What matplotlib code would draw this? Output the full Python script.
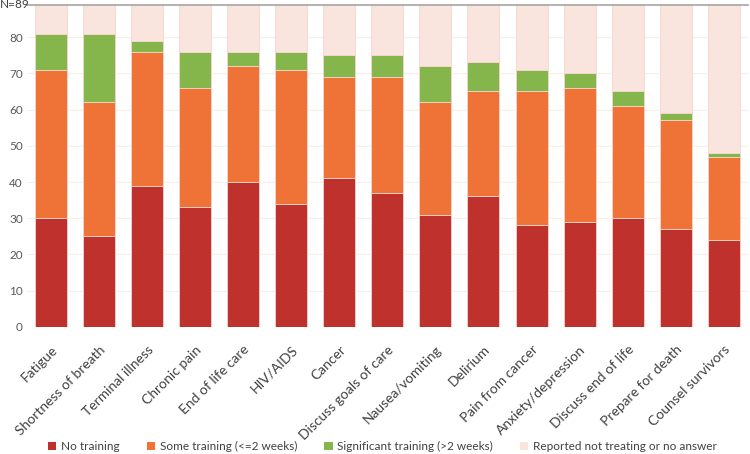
import numpy as np
import matplotlib.pyplot as plt
from matplotlib.patches import Patch
import matplotlib.transforms as mtransforms

plt.rcParams['font.family'] = ['Lato', 'DejaVu Sans']

N = 89
topics = ["Fatigue", "Shortness of breath", "Terminal illness", "Chronic pain",
          "End of life care", "HIV/AIDS", "Cancer", "Discuss goals of care",
          "Nausea/vomiting", "Delirium", "Pain from cancer", "Anxiety/depression",
          "Discuss end of life", "Prepare for death", "Counsel survivors"]
no_training = np.array([30, 25, 39, 33, 40, 34, 41, 37, 31, 36, 28, 29, 30, 27, 24])
some_training = np.array([41, 37, 37, 33, 32, 37, 28, 32, 31, 29, 37, 37, 31, 30, 23])
significant = np.array([10, 19, 3, 10, 4, 5, 6, 6, 10, 8, 6, 4, 4, 2, 1])
not_treating = N - no_training - some_training - significant

labels = ["No training", "Some training (<=2 weeks)",
          "Significant training (>2 weeks)", "Reported not treating or no answer"]
colors = ["#BE312D", "#EF7336", "#84B64B", "#FAE5DE"]

fig = plt.figure(figsize=(7.5, 4.54), dpi=100)
ax = fig.add_axes([0.036, 0.280, 0.961, 0.710])

x = np.arange(len(topics))
bottom = np.zeros(len(topics))
for vals, col in zip([no_training, some_training, significant, not_treating], colors):
    ax.bar(x, vals, bottom=bottom, width=0.667, color=col,
           edgecolor="#F6D5CC", linewidth=0.6, zorder=3)
    bottom += vals

ax.set_xlim(-0.5, len(topics) - 0.5)
ax.set_ylim(0, N)
ax.set_yticks(range(0, 90, 10))
ax.yaxis.grid(True, color="#FBEDE8", linewidth=0.8, zorder=0)
ax.axhline(N, color="#A6A6A6", linewidth=1.2, zorder=4, clip_on=False)
for s in ["left", "right", "bottom", "top"]:
    ax.spines[s].set_visible(False)
ax.tick_params(axis="y", length=0, labelsize=8.5, labelcolor="#595959", pad=3)
ax.tick_params(axis="x", length=0, labelsize=10, labelcolor="#404040", pad=15)

# sample size label sits where the top tick would be
trans = mtransforms.blended_transform_factory(fig.transFigure, ax.transData)
fig.text(0.0, N, f"N={N}", transform=trans, ha="left", va="center",
         fontsize=8.5, color="#404040")

ax.set_xticks(x)
ax.set_xticklabels(topics, rotation=45, ha="right", va="center",
                   rotation_mode="anchor")
offset = mtransforms.ScaledTranslation(3 / 72, 0, fig.dpi_scale_trans)
for lbl in ax.get_xticklabels():
    lbl.set_transform(lbl.get_transform() + offset)

handles = [Patch(facecolor=c, edgecolor="none", label=l) for c, l in zip(colors, labels)]
fig.legend(handles=handles, loc="center", bbox_to_anchor=(0.51, 0.016),
           ncol=4, frameon=False, fontsize=8.5, handlelength=0.7,
           handleheight=0.7, handletextpad=0.4, columnspacing=2.3,
           labelcolor="#404040")

fig.savefig("out.png", dpi=100)
